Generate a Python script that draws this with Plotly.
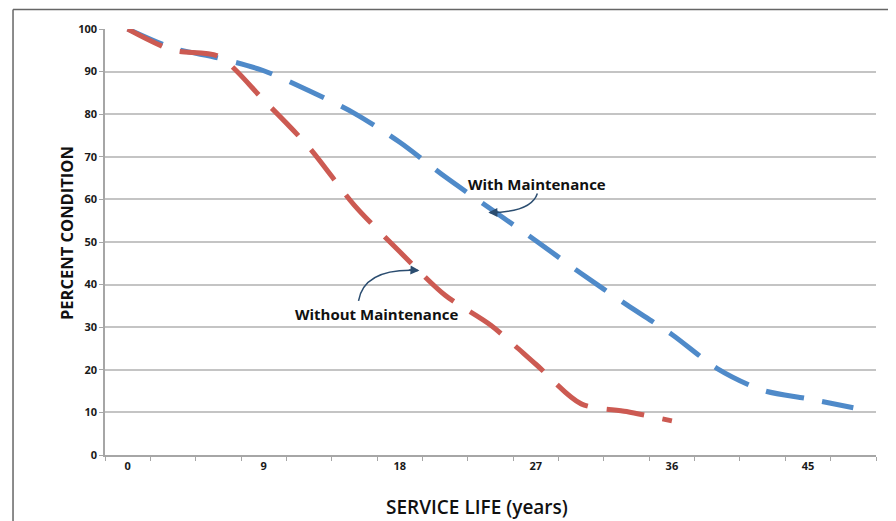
import plotly.graph_objects as go

# ---- data ----
years_with = [0, 3, 6, 9, 12, 15, 18, 21, 24, 27, 30, 33, 36, 39, 42, 45, 48]
with_maint = [100, 95.5, 93.2, 90.2, 85.5, 80.2, 73.4, 65.3, 57.8, 50.3, 42.6, 35.3, 28.3, 20.3, 15.2, 13.2, 11.1]
years_without = [0, 3, 6, 9, 12, 15, 18, 21, 24, 27, 30, 33, 36]
without_maint = [100, 95, 93.6, 83.3, 72.2, 58.6, 47.7, 37.5, 30.5, 21.3, 12.0, 10.2, 8.0]
x_tick_vals = [0, 9, 18, 27, 36, 45]
x_tick_text = ["0", "9", "18", "27", "36", "45"]
y_tick_vals = [0, 10, 20, 30, 40, 50, 60, 70, 80, 90, 100]

BLUE = "#4f8ac9"
RED = "#cc5a52"
ARROW = "#2b4d70"
FONT = "Open Sans"
DASH = "38px,19px"

fig = go.Figure()
fig.add_trace(go.Scatter(
    x=years_with, y=with_maint, mode="lines", name="With Maintenance",
    line=dict(color=BLUE, width=5, dash=DASH, shape="spline", smoothing=0.8),
))
fig.add_trace(go.Scatter(
    x=years_without, y=without_maint, mode="lines", name="Without Maintenance",
    line=dict(color=RED, width=5, dash=DASH, shape="spline", smoothing=0.8),
))

cat_step = 3
boundaries = [c - cat_step / 2 for c in years_with] + [years_with[-1] + cat_step / 2]

# the page body adds an 8px offset, so the figure is 8px smaller each way
fig.update_layout(
    width=888, height=513,
    margin=dict(l=97, r=20, t=21, b=66, autoexpand=False),
    paper_bgcolor="white", plot_bgcolor="white",
    showlegend=False,
    font=dict(family=FONT, color="#1a1a1a"),
    xaxis=dict(
        range=[boundaries[0], boundaries[-1]],
        tickmode="array", tickvals=x_tick_vals, ticktext=x_tick_text,
        ticks="", showgrid=False, zeroline=False,
        showline=True, linecolor="#a6a6a6", linewidth=1.5,
        tickfont=dict(family=FONT, size=11, color="#1a1a1a", weight="bold"),
        minor=dict(tickmode="array", tickvals=boundaries, ticks="outside",
                   ticklen=4, tickcolor="#a6a6a6", tickwidth=1, showgrid=False),
        fixedrange=True,
    ),
    yaxis=dict(
        range=[0, 100], tickmode="array", tickvals=y_tick_vals,
        ticks="outside", ticklen=4, tickcolor="#a6a6a6",
        showgrid=True, gridcolor="#c4c4c4", gridwidth=1.5,
        zeroline=False, showline=True, linecolor="#a6a6a6", linewidth=1.5,
        tickfont=dict(family=FONT, size=11, color="#1a1a1a", weight="bold"),
        fixedrange=True,
    ),
)

# outer frame (bottom edge lies outside the picture)
frame = dict(type="line", xref="paper", yref="paper", line=dict(color="#666666", width=1.5))
fig.add_shape(**frame, x0=-0.1193, x1=-0.1193, y0=-0.2, y1=1.046)
fig.add_shape(**frame, x0=-0.1193, x1=1.0236, y0=1.046, y1=1.046)
fig.add_shape(**frame, x0=1.0236, x1=1.0236, y0=-0.2, y1=1.046)

# axis titles
fig.add_annotation(text="<b>PERCENT CONDITION</b>", xref="paper", yref="paper",
                   x=-0.0674, y=0.52, textangle=-90, showarrow=False,
                   font=dict(family=FONT, size=16.5, color="#111111"))
fig.add_annotation(text="SERVICE LIFE (years)", xref="paper", yref="paper",
                   x=0.483, y=-0.121, yanchor="middle", showarrow=False,
                   font=dict(family=FONT, size=19, color="#111111", weight=600))

# series labels
fig.add_annotation(text="<b>With Maintenance</b>", x=27.1, y=63.6, xref="x", yref="y",
                   showarrow=False, font=dict(family=FONT, size=15, color="#111111"))
fig.add_annotation(text="<b>Without Maintenance</b>", x=16.46, y=33.0, xref="x", yref="y",
                   showarrow=False, font=dict(family=FONT, size=15, color="#111111"))

# curved arrows
fig.add_shape(type="path", xref="x", yref="y",
              path="M 27.1,61.4 Q 26.7,57.0 23.95,56.9",
              line=dict(color=ARROW, width=1.5))
fig.add_annotation(x=23.86, y=56.9, ax=24.6, ay=56.95, xref="x", yref="y",
                   axref="x", ayref="y", text="", showarrow=True,
                   arrowhead=2, arrowsize=1.2, arrowwidth=1.5, arrowcolor=ARROW, standoff=0)
fig.add_shape(type="path", xref="x", yref="y",
              path="M 15.27,36.2 Q 15.66,43.9 19.2,43.3",
              line=dict(color=ARROW, width=1.5))
fig.add_annotation(x=19.3, y=43.3, ax=18.5, ay=43.45, xref="x", yref="y",
                   axref="x", ayref="y", text="", showarrow=True,
                   arrowhead=2, arrowsize=1.2, arrowwidth=1.5, arrowcolor=ARROW, standoff=0)

fig.write_html("out.html")
